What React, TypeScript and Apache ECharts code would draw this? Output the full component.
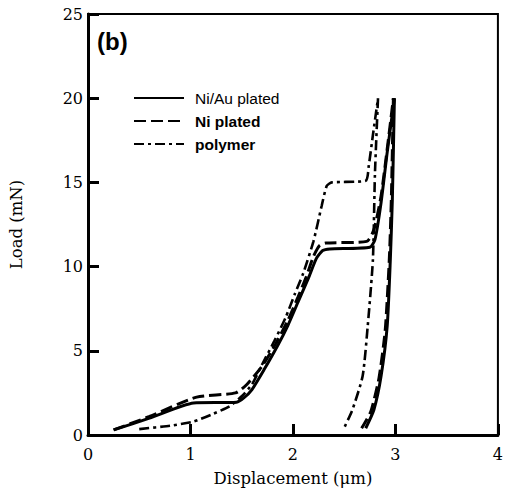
import React, { useEffect, useRef } from "react";
import * as echarts from "echarts";

const xTicks = [0, 1, 2, 3, 4];
const yTicks = [0, 5, 10, 15, 20, 25];
const seriesNames = ["Ni/Au plated", "Ni plated", "polymer"];

const niAuLoad: [number, number][] = [
  [0.25, 0.3], [0.6, 1.0], [1.03, 1.9], [1.45, 1.95], [1.52, 2.2], [1.6, 2.7],
  [1.72, 3.9], [1.85, 5.3], [1.95, 6.5], [2.05, 7.9], [2.15, 9.3], [2.23, 10.5],
  [2.29, 10.95], [2.36, 11.05], [2.75, 11.15], [2.8, 11.6], [2.86, 13.8],
  [2.92, 16.8], [2.99, 20.0],
];
const niAuUnload: [number, number][] = [
  [2.99, 20.0], [2.97, 14.0], [2.95, 10.4], [2.92, 6.5], [2.86, 3.5], [2.79, 1.5], [2.71, 0.4],
];
const niLoad: [number, number][] = [
  [0.25, 0.3], [0.6, 1.1], [1.06, 2.25], [1.44, 2.5], [1.55, 3.0], [1.7, 4.1],
  [1.83, 5.4], [1.95, 6.8], [2.05, 8.2], [2.13, 9.4], [2.2, 10.6], [2.26, 11.25],
  [2.32, 11.4], [2.72, 11.5], [2.79, 12.2], [2.86, 14.2], [2.92, 17.0], [2.98, 20.0],
];
const niUnload: [number, number][] = [
  [2.98, 20.0], [2.96, 14.0], [2.94, 10.4], [2.9, 6.2], [2.84, 3.4], [2.76, 1.4], [2.67, 0.4],
];
const polyLoad: [number, number][] = [
  [0.5, 0.35], [0.8, 0.55], [1.03, 0.8], [1.2, 1.2], [1.38, 1.7], [1.5, 2.3],
  [1.6, 3.0], [1.7, 4.2], [1.82, 5.6], [1.93, 7.0], [2.02, 8.4], [2.1, 9.6],
  [2.2, 11.5], [2.28, 13.6], [2.33, 14.8], [2.38, 15.0], [2.71, 15.1],
  [2.74, 16.0], [2.78, 17.8], [2.83, 20.0],
];
const polyUnload: [number, number][] = [
  [2.83, 20.0], [2.8, 15.5], [2.78, 10.4], [2.73, 6.5], [2.68, 3.5], [2.58, 1.5], [2.49, 0.3],
];

const serif = "DejaVu Serif";
const sans = "Liberation Sans";

export default function App() {
  const ref = useRef<HTMLDivElement>(null);
  useEffect(() => {
    if (!ref.current) return;
    const chart = echarts.init(ref.current, undefined, { renderer: "svg" });
    const solid = { color: "#000", width: 3, type: "solid" as const };
    const dashed = { color: "#000", width: 3, type: [12, 5] as any };
    const dashDot = { color: "#000", width: 2.6, type: [10, 4, 3, 4] as any };
    const mk = (name: string, data: [number, number][], ls: any) => ({
      name,
      type: "line",
      data,
      symbol: "none",
      smooth: 0.2,
      lineStyle: ls,
      itemStyle: { color: "#000" },
    });
    chart.setOption({
      animation: false,
      grid: {
        left: 82, right: 4, top: 14, bottom: 56,
        show: true, borderColor: "#000", borderWidth: 2, backgroundColor: "transparent",
      },
      legend: {
        orient: "vertical",
        left: 128,
        top: 85,
        itemWidth: 50,
        itemHeight: 14,
        itemGap: 7,
        itemStyle: { color: "rgba(0,0,0,0)", borderWidth: 0, opacity: 0 },
        data: [
          { name: seriesNames[0], textStyle: { fontWeight: "normal" } },
          { name: seriesNames[1], textStyle: { fontWeight: "bold" } },
          { name: seriesNames[2], textStyle: { fontWeight: "bold" } },
        ],
        textStyle: { fontFamily: sans, fontSize: 15.5, color: "#000", padding: [0, 0, 0, 6] },
      },
      graphic: [
        {
          type: "text", left: 97, top: 29,
          style: { text: "(b)", font: `bold 24px ${sans}`, fill: "#000" },
        },
      ],
      xAxis: {
        type: "value", min: xTicks[0], max: xTicks[xTicks.length - 1], interval: 1,
        name: "Displacement (μm)", nameLocation: "middle", nameGap: 35,
        nameTextStyle: { fontFamily: serif, fontSize: 16.5, color: "#000" },
        axisLine: { show: true, lineStyle: { color: "#000", width: 3 } },
        axisTick: { show: true, inside: true, length: 11, lineStyle: { color: "#000", width: 3 } },
        axisLabel: { fontFamily: serif, fontSize: 16, color: "#000", margin: 11 },
        splitLine: { show: false },
      },
      yAxis: {
        type: "value", min: yTicks[0], max: yTicks[yTicks.length - 1], interval: 5,
        name: "Load (mN)", nameLocation: "middle", nameGap: 63, nameRotate: 90,
        nameTextStyle: { fontFamily: serif, fontSize: 16.5, color: "#000" },
        axisLine: { show: true, lineStyle: { color: "#000", width: 3 } },
        axisTick: { show: true, inside: true, length: 11, lineStyle: { color: "#000", width: 3 } },
        axisLabel: { fontFamily: serif, fontSize: 16, color: "#000", margin: 5 },
        splitLine: { show: false },
      },
      series: [
        mk(seriesNames[0], niAuLoad, solid),
        mk(seriesNames[0], niAuUnload, solid),
        mk(seriesNames[1], niLoad, dashed),
        mk(seriesNames[1], niUnload, dashed),
        mk(seriesNames[2], polyLoad, dashDot),
        mk(seriesNames[2], polyUnload, dashDot),
      ],
    });
    return () => chart.dispose();
  }, []);
  return (
    <div
      ref={ref}
      style={{ position: "fixed", left: 0, top: 0, width: 506, height: 492, background: "#fff" }}
    />
  );
}
